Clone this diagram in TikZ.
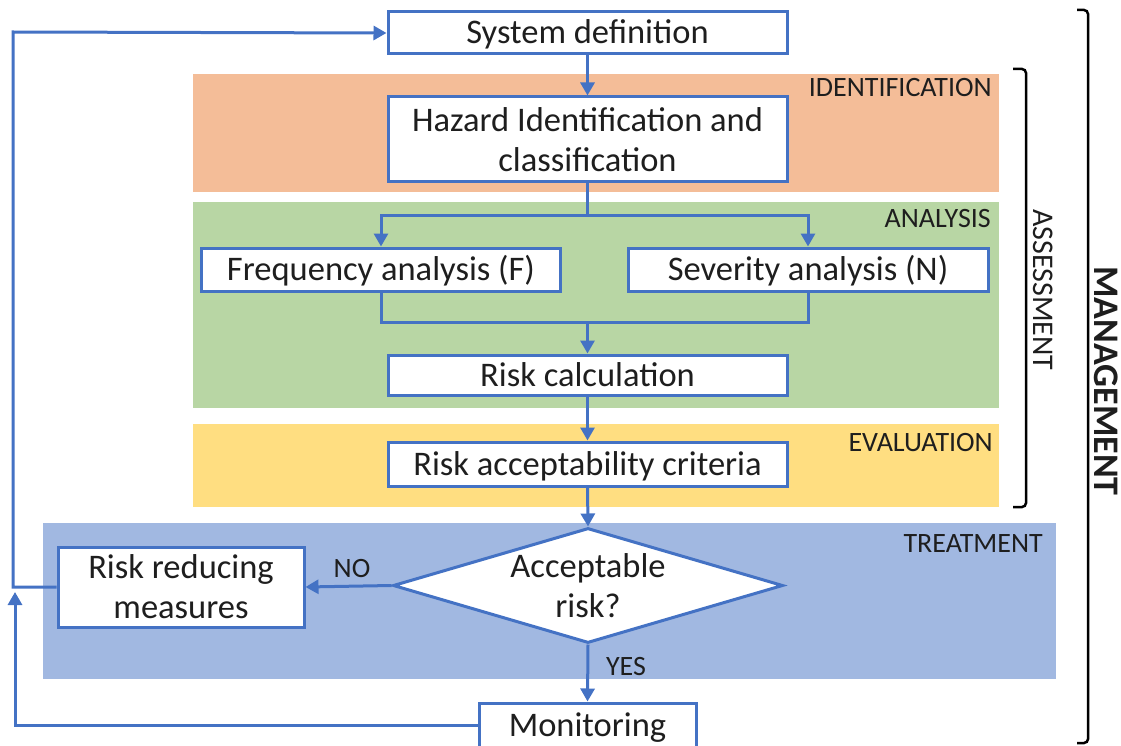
\documentclass[tikz,border=0pt]{standalone}
\usepackage{fontspec}
\setmainfont{Carlito}
\usetikzlibrary{arrows.meta,shapes.geometric}
\definecolor{flowblue}{HTML}{4472C4}
\definecolor{idband}{HTML}{F4BD98}
\definecolor{anband}{HTML}{B8D6A4}
\definecolor{evband}{HTML}{FFDE81}
\definecolor{trband}{HTML}{A1B8E1}
\definecolor{ink}{HTML}{1E1E1E}

\begin{document}
\begin{tikzpicture}[x=1pt,y=-1pt,
  every node/.style={text=ink},
  stepbox/.style={draw=flowblue, line width=3pt, fill=white, inner sep=0pt,
    align=center, font=\fontsize{34.5}{40}\selectfont},
  oneline/.style={text height=22pt, text depth=0pt},
  flow/.style={draw=flowblue, line width=3pt, -{Triangle[length=13pt,width=14pt]}},
  link/.style={draw=flowblue, line width=3pt},
  tag/.style={font=\fontsize{28}{34}\selectfont, inner sep=0pt,
    text height=18pt, text depth=0pt},
  brace/.style={draw=black, line width=2.5pt, rounded corners=4pt},
]
\useasboundingbox (0,0) rectangle (1121,746);

% phase bands
\fill[idband] (193,74) rectangle (999,192);
\fill[anband] (193,202) rectangle (999,408);
\fill[evband] (193,424) rectangle (999,507);
\fill[trband] (43,523) rectangle (1056,679);

\node[tag, anchor=east] (tid) at (992,88) {IDENTIFICATION};
\node[tag, anchor=east] (tan) at (991,218) {ANALYSIS};
\node[tag, anchor=east] (tev) at (993,442) {EVALUATION};
\node[tag, anchor=east] (ttr) at (1043,543) {TREATMENT};

% process steps
\node[stepbox, oneline, minimum width=399pt, minimum height=42pt] (sys) at (587.5,33) {System definition};
\node[stepbox, minimum width=399pt, minimum height=85pt] (haz) at (587.5,139.5) {Hazard Identification and\\classification};
\node[stepbox, oneline, minimum width=359pt, minimum height=43pt] (freq) at (381,269.5) {Frequency analysis (F)};
\node[stepbox, oneline, minimum width=360pt, minimum height=43pt] (sev) at (808,269.5) {Severity analysis (N)};
\node[stepbox, oneline, minimum width=399pt, minimum height=40pt] (calc) at (587.5,375) {Risk calculation};
\node[stepbox, oneline, minimum width=399pt, minimum height=44pt] (acc) at (587.5,464) {Risk acceptability criteria};
\node[diamond, draw=flowblue, line width=3pt, fill=white, inner sep=0pt,
  minimum width=390pt, minimum height=115pt,
  label={[align=center, font=\fontsize{34.5}{40}\selectfont, text=ink]center:Acceptable\\risk?}] (dec) at (588,585.5) {};
\node[stepbox, minimum width=246pt, minimum height=80pt] (rrm) at (181,587) {Risk reducing\\measures};
\node[stepbox, oneline, minimum width=217pt, minimum height=44pt] (mon) at (587.5,725) {Monitoring};

% connectors
\coordinate (split) at (587.5,215);
\coordinate (merge) at (587.5,322);
\draw[flow] (sys) -- (haz);
\draw[link] (haz.south) -- (split);
\draw[flow] (split) -| (freq.north);
\draw[flow] (split) -| (sev.north);
\draw[link] (freq.south) |- (merge);
\draw[link] (sev.south) |- (merge);
\draw[flow] (merge) -- (calc.north);
\draw[flow] (calc) -- (acc);
\draw[flow] (acc.south) -- (dec.north);
\draw[flow] (dec.west) -- (rrm.east);
\draw[flow] (dec.south) -- (mon.north);
\node[tag] (no) at (352,568) {NO};
\node[tag] (yes) at (626,666) {YES};

% feedback loops
\coordinate (loopa) at (13,32);
\draw[flow] (rrm.west) -| (loopa) -- (sys.west);
\coordinate (loopb) at (15,592);
\draw[flow] (mon.west) -| (loopb);

% scope brackets
\coordinate (asstop) at (1013,69);
\coordinate (assbot) at (1013,507);
\draw[brace] (asstop) -- (1026,69) -- (1026,507) -- (assbot);
\node[font=\fontsize{30}{36}\selectfont, rotate=-90, inner sep=0pt] (ass) at (1043,290) {ASSESSMENT};
\coordinate (mantop) at (1077,10);
\coordinate (manbot) at (1077,743);
\draw[brace] (mantop) -- (1088,10) -- (1088,743) -- (manbot);
\node[font=\fontsize{36}{42}\selectfont\bfseries, rotate=-90, inner sep=0pt] (man) at (1106,381) {MANAGEMENT};
\end{tikzpicture}
\end{document}
